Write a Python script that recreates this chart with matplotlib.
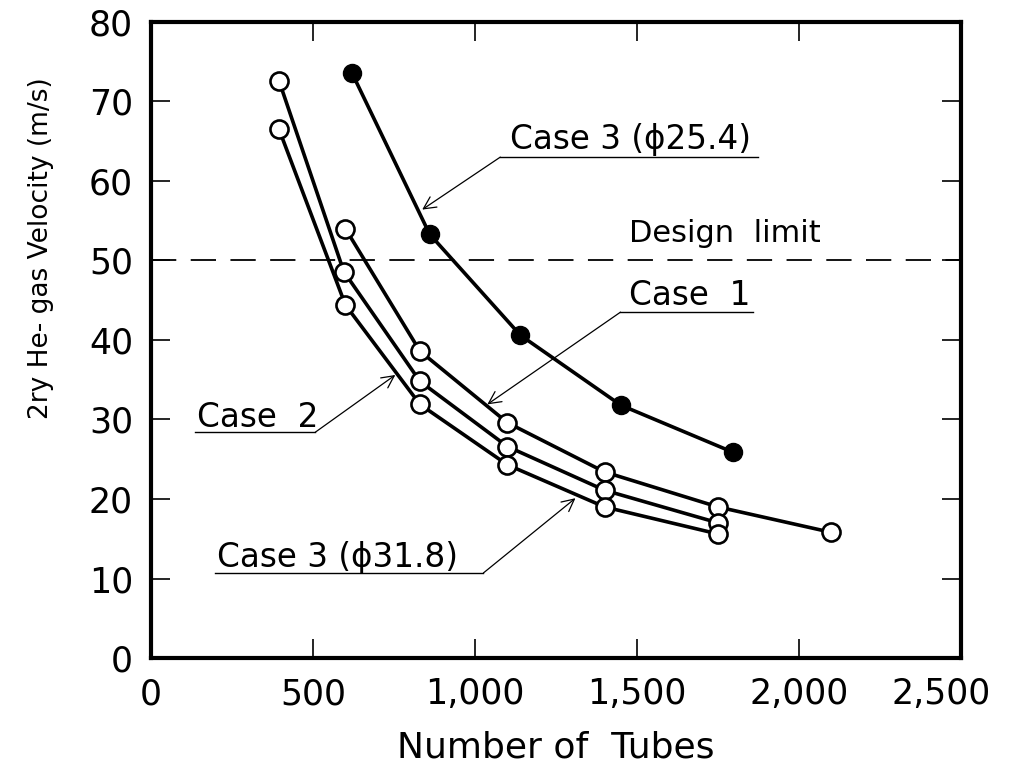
import matplotlib
matplotlib.use("Agg")
import matplotlib.pyplot as plt
from matplotlib.transforms import ScaledTranslation

# Datos
case1_x = [600, 830, 1100, 1400, 1750, 2100]
case1_y = [54.0, 38.6, 29.6, 23.4, 19.0, 15.8]

case2_x = [395, 595, 830, 1100, 1400, 1750]
case2_y = [72.6, 48.6, 34.8, 26.6, 21.1, 17.0]

case3a_x = [395, 600, 830, 1100, 1400, 1750]   # phi 31.8
case3a_y = [66.5, 44.4, 31.9, 24.3, 19.0, 15.6]

case3b_x = [620, 860, 1140, 1450, 1795]        # phi 25.4
case3b_y = [73.6, 53.3, 40.6, 31.8, 25.9]

design_limit = 50
x_ticks = [0, 500, 1000, 1500, 2000, 2500]
x_labels = ["0", "500", "1,000", "1,500", "2,000", "2,500"]
y_ticks = [0, 10, 20, 30, 40, 50, 60, 70, 80]

fig = plt.figure(figsize=(10.09, 7.84), dpi=100)
ax = fig.add_axes([0.1497, 0.1607, 0.8027, 0.8113])

# Curvas con circulos abiertos
for xs, ys in [(case1_x, case1_y), (case2_x, case2_y), (case3a_x, case3a_y)]:
    ax.plot(xs, ys, color="black", lw=2.6, marker="o", ms=13,
            mfc="white", mec="black", mew=1.9, zorder=3)
# Curva con circulos llenos
ax.plot(case3b_x, case3b_y, color="black", lw=2.6, marker="o", ms=13,
        mfc="black", mec="black", zorder=3)

# Limite de diseno
ax.axhline(design_limit, color="black", lw=1.3, linestyle=(0, (14, 8)), zorder=1)
ax.text(1474, 52.3, "Design  limit", fontsize=22, va="baseline", ha="left")

# Etiquetas con subrayado y flecha
def etiqueta(texto, tx, ty, u0, u1, uy, desde, punta):
    ax.text(tx, ty, texto, fontsize=23.5, va="baseline", ha="left")
    ax.plot([u0, u1], [uy, uy], color="black", lw=1.0)
    ax.annotate("", xy=punta, xytext=desde,
                arrowprops=dict(arrowstyle="->", lw=0.9, color="black",
                                shrinkA=0, shrinkB=0, mutation_scale=22))

etiqueta("Case 3 (\u03d525.4)", 1109, 64.0, 1078, 1873, 63.0, (1078, 63.0), (837, 56.4))
etiqueta("Case  1", 1474, 44.4, 1449, 1858, 43.5, (1449, 43.5), (1038, 31.9))
etiqueta("Case  2", 142, 29.1, 136, 507, 28.4, (507, 28.4), (754, 35.6))
etiqueta("Case 3 (\u03d531.8)", 204, 11.4, 198, 1026, 10.7, (1026, 10.7), (1310, 20.1))

ax.set_xlim(0, 2500)
ax.set_ylim(0, 80)
ax.set_xticks(x_ticks)
ax.set_xticklabels(x_labels)
ax.set_yticks(y_ticks)
ax.tick_params(axis="both", direction="in", length=14, width=1.2,
               labelsize=25, top=True, right=True)
ax.tick_params(axis="x", pad=14)
ax.tick_params(axis="y", pad=13)
for s in ax.spines.values():
    s.set_linewidth(3)

# la ultima etiqueta del eje x un poco a la izquierda para que quepa
ult = ax.get_xticklabels()[-1]
ult.set_transform(ult.get_transform() + ScaledTranslation(-14 / 72, 0, fig.dpi_scale_trans))

ax.set_xlabel("Number of  Tubes", fontsize=26, labelpad=14)
ax.set_ylabel("2ry He- gas Velocity (m/s)", fontsize=19)
ax.yaxis.set_label_coords(-0.12, 0.645)

fig.savefig("out.png", dpi=100)
